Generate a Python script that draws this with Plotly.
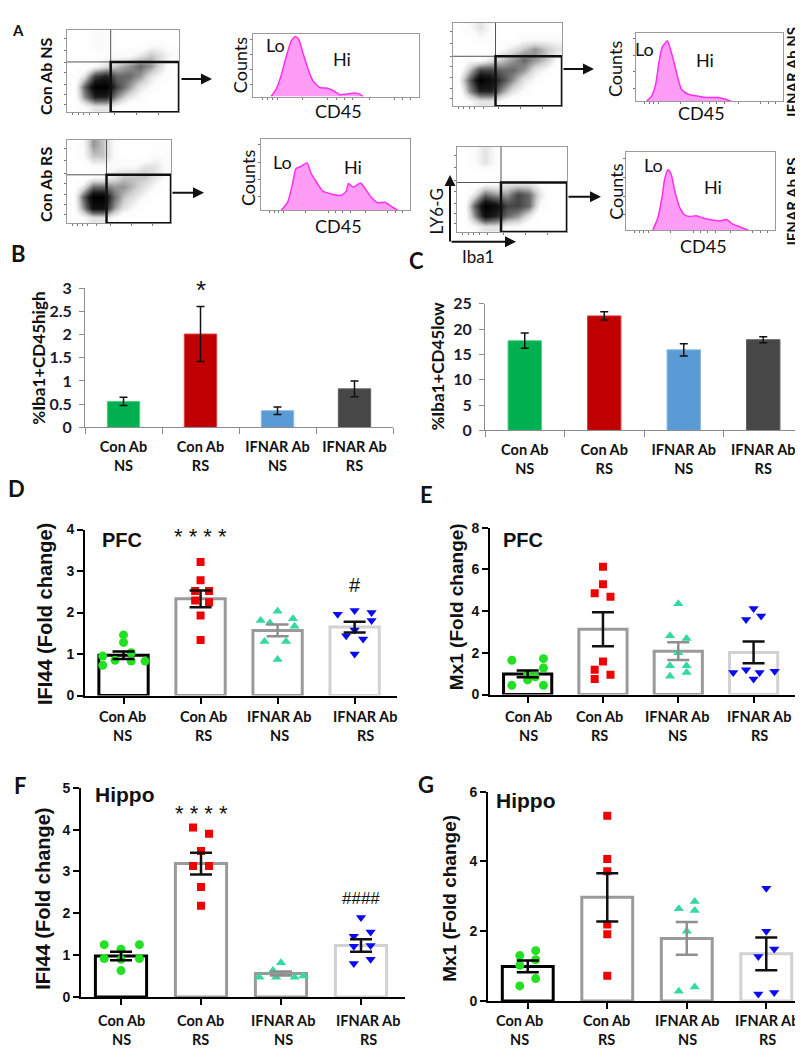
import plotly.graph_objects as go

W, H = 803, 1050

# ---------------------------------------------------------------- data
GROUPS = ["Con Ab<br>NS", "Con Ab<br>RS", "IFNAR Ab<br>NS", "IFNAR Ab<br>RS"]

# Panel A: flow-cytometry density (rows bottom -> top; Iba1 left -> right)
S1_Z = [
    [0, 1, 2, 2, 1, 0, 0, 0, 0, 0],
    [0, 4, 7, 7, 4, 2, 1, 0, 0, 0],
    [0, 5, 9, 9, 6, 4, 2, 1, 0, 0],
    [0, 2, 6, 7, 5, 5, 4, 2, 1, 0],
    [0, 0, 1, 2, 3, 4, 5, 4, 2, 0],
    [0, 0, 0, 1, 1, 1, 2, 3, 2, 1],
    [0, 0, 1, 1, 0, 0, 0, 1, 1, 0],
    [0, 0, 1, 1, 0, 0, 0, 0, 0, 0],
]
S2_Z = [
    [0, 1, 2, 2, 1, 0, 0, 0, 0, 0],
    [0, 4, 7, 7, 4, 2, 1, 0, 0, 0],
    [1, 5, 9, 8, 6, 4, 2, 1, 0, 0],
    [0, 3, 6, 6, 5, 5, 4, 2, 1, 0],
    [0, 1, 1, 2, 3, 4, 5, 4, 3, 1],
    [0, 0, 0, 0, 1, 2, 3, 4, 3, 2],
    [0, 0, 1, 1, 0, 0, 1, 1, 1, 1],
    [0, 1, 2, 1, 0, 0, 0, 0, 0, 0],
]
S3_Z = [
    [0, 1, 2, 2, 1, 0, 0, 0, 0, 0],
    [0, 4, 8, 8, 4, 2, 1, 0, 0, 0],
    [0, 5, 9, 9, 5, 3, 2, 1, 0, 0],
    [0, 2, 5, 5, 4, 4, 3, 2, 1, 0],
    [0, 0, 1, 1, 2, 3, 3, 3, 2, 1],
    [0, 0, 1, 1, 1, 1, 1, 2, 2, 1],
    [0, 1, 3, 3, 1, 0, 0, 0, 1, 1],
    [0, 1, 4, 3, 1, 0, 0, 0, 0, 0],
]
S4_Z = [
    [0, 1, 2, 2, 1, 1, 0, 0, 0, 0],
    [0, 4, 8, 7, 5, 4, 2, 0, 0, 0],
    [0, 5, 9, 8, 6, 6, 5, 1, 0, 0],
    [0, 2, 5, 4, 4, 6, 5, 2, 0, 0],
    [0, 0, 1, 1, 2, 2, 2, 1, 0, 0],
    [0, 0, 0, 0, 0, 0, 0, 0, 0, 0],
    [0, 1, 2, 1, 0, 0, 0, 0, 0, 0],
    [0, 1, 2, 1, 0, 0, 0, 0, 0, 0],
]

# CD45 histograms (channel, counts %)
H1_X = [110, 141, 171, 201, 231, 255, 275, 301, 331, 361, 402, 442, 482, 522, 562, 612, 643, 663]
H1_Y = [0, 13, 36, 67, 92, 99, 95, 72, 46, 26, 15, 14, 10, 3, 4, 6, 4, 0]
H2_X = [72, 106, 133, 156, 179, 197, 213, 231, 253, 283, 310, 355, 423, 491, 559, 615, 649]
H2_Y = [0, 8, 25, 59, 83, 88, 92, 81, 64, 37, 18, 11, 8, 6, 6, 3, 0]
H3_X = [135, 179, 213, 235, 269, 309, 336, 370, 415, 471, 538, 572, 587, 617, 639, 668, 695, 740, 785, 830, 874, 919]
H3_Y = [0, 12, 40, 61, 64, 69, 54, 42, 28, 24, 22, 28, 39, 34, 36, 40, 33, 19, 11, 12, 6, 0]
H4_X = [180, 213, 243, 258, 281, 303, 326, 360, 393, 427, 472, 517, 562, 629, 674, 719, 753, 820]
H4_Y = [0, 16, 45, 66, 80, 74, 53, 30, 20, 18, 19, 16, 14, 12, 14, 7.5, 5, 0]

# Panel B / C
B_MEAN = [0.56, 2.01, 0.36, 0.83]
B_ERR = [0.09, 0.59, 0.08, 0.17]
C_MEAN = [17.7, 22.6, 15.9, 17.9]
C_ERR = [1.5, 0.8, 1.2, 0.6]

# Panel D: IFI44 PFC
D_MEAN = [0.97, 2.33, 1.57, 1.65]
D_SEM = [0.09, 0.20, 0.14, 0.13]
D_PTS = [
    [0.95, 0.73, 0.85, 1.46, 1.28, 1.03, 0.83, 0.83],
    [3.22, 2.78, 2.52, 2.52, 2.29, 2.25, 1.93, 1.34],
    [2.03, 1.81, 1.85, 1.67, 1.30, 1.30, 0.87, 1.75],
    [1.96, 2.05, 2.00, 1.81, 1.44, 1.36, 1.00, 1.58],
]
# Panel E: Mx1 PFC
E_MEAN = [0.99, 3.13, 2.08, 2.02]
E_SEM = [0.16, 0.81, 0.42, 0.52]
E_PTS = [
    [1.64, 1.72, 1.27, 0.98, 0.70, 0.44, 0.44, 0.85],
    [6.12, 5.29, 4.85, 4.69, 1.58, 1.19, 0.95, 0.75],
    [4.35, 2.82, 2.68, 2.00, 1.38, 1.38, 1.06, 0.88],
    [4.12, 3.76, 3.60, 1.06, 1.19, 1.06, 1.11, 0.75],
]
# Panel F: IFI44 Hippo
F_MEAN = [0.98, 3.19, 0.56, 1.23]
F_SEM = [0.10, 0.26, 0.05, 0.15]
F_PTS = [
    [1.25, 1.14, 1.25, 0.92, 0.92, 0.90, 0.63],
    [4.05, 3.90, 3.49, 3.13, 3.13, 2.63, 2.18],
    [0.82, 0.63, 0.47, 0.47, 0.47, 0.50],
    [1.90, 1.45, 1.55, 1.23, 1.21, 0.80, 0.90],
]
# Panel G: Mx1 Hippo
G_MEAN = [0.99, 2.97, 1.79, 1.35]
G_SEM = [0.17, 0.69, 0.47, 0.47]
G_PTS = [
    [1.30, 1.44, 1.18, 1.02, 0.43, 0.64],
    [5.31, 4.07, 3.72, 2.19, 1.91, 0.72],
    [2.64, 2.85, 2.59, 2.00, 0.28, 0.40],
    [3.23, 2.00, 1.49, 1.27, 0.20, 0.24],
]

# ---------------------------------------------------------------- layout (positions / styles)
# horizontal swarm offsets of the points (category units)
D_DX = [
    [-0.27, -0.27, -0.11, 0, 0, 0.1, 0.1, 0.28],
    [0, 0, -0.07, 0.11, -0.07, 0.11, 0, 0],
    [0, -0.22, 0.2, 0.22, -0.17, 0.11, 0, -0.1],
    [-0.22, 0, 0.22, 0.22, -0.11, 0.11, 0, 0],
]
E_DX = [
    [-0.21, 0.21, 0.21, 0, 0, -0.21, 0.21, 0.1],
    [0, 0, -0.11, 0.1, 0, -0.11, 0.1, -0.11],
    [0, -0.11, 0.11, 0, -0.11, 0.11, 0.11, -0.11],
    [0, 0.1, -0.1, -0.27, -0.1, 0.08, 0.28, 0],
]
F_DX = [
    [-0.21, 0, 0.23, -0.21, 0.23, 0, 0],
    [-0.1, 0.1, 0, -0.1, 0.1, 0, 0],
    [0, -0.1, -0.27, -0.06, 0.17, 0.28],
    [0, -0.09, 0.12, 0.12, -0.09, -0.09, 0.12],
]
G_DX = [
    [-0.1, 0.1, 0.1, -0.1, -0.1, 0.1],
    [0, 0, 0, 0, 0, 0],
    [-0.1, 0.1, 0.1, 0, -0.1, 0.1],
    [0, 0, 0.1, -0.1, -0.1, 0.1],
]

FONT = "Lato, Arial, sans-serif"
ARIAL = "Arial, Liberation Sans, sans-serif"

traces = []
annotations = []
shapes = []
layout = dict(
    width=W, height=H, margin=dict(l=0, r=0, t=0, b=0),
    paper_bgcolor="white", plot_bgcolor="rgba(0,0,0,0)",
    showlegend=False, font=dict(family=FONT, color="#111"),
)


def px_x(p):
    return p / W


def px_y(p):
    return 1 - p / H


def axes(n, left, top, right, bottom, xa, ya):
    k = "" if n == 1 else str(n)
    layout["xaxis" + k] = dict(domain=[px_x(left), px_x(right)], anchor="y" + k, **xa)
    layout["yaxis" + k] = dict(domain=[px_y(bottom), px_y(top)], anchor="x" + k, **ya)
    return "x" + k, "y" + k


def note(xp, yp, text, size, bold=False, angle=0, family=FONT, color="#111",
         xanchor="center", yanchor="middle"):
    annotations.append(dict(
        x=px_x(xp), y=px_y(yp), xref="paper", yref="paper",
        text=("<b>%s</b>" % text) if bold else text, showarrow=False,
        font=dict(size=size, family=family, color=color), textangle=angle,
        xanchor=xanchor, yanchor=yanchor))


def arrow(xt, yt, xh, yh, width=2):
    annotations.append(dict(
        x=px_x(xh), y=px_y(yh), xref="paper", yref="paper", text="",
        ax=xt - xh, ay=yt - yh, axref="pixel", ayref="pixel", showarrow=True,
        arrowhead=2, arrowsize=1.1, arrowwidth=width, arrowcolor="#111"))


FRAME = dict(showline=True, mirror=True, linecolor="#9a9a9a", linewidth=1,
             showgrid=False, zeroline=False, showticklabels=False,
             ticks="outside", ticklen=2, tickcolor="#777", fixedrange=True)


def flow_dot(n, box, Z, gate):
    left, top, right, bottom = box
    xr, yr = axes(n, left, top, right, bottom,
                  dict(FRAME, range=[0, 1], tickvals=[0.05, 0.1, 0.15, 0.2, 0.28, 0.42, 0.62, 0.82]),
                  dict(FRAME, range=[0, 1], tickvals=[0.1, 0.22, 0.34, 0.48, 0.6, 0.75, 0.9]))
    nx, ny = len(Z[0]), len(Z)
    traces.append(go.Heatmap(
        z=Z, x=[(i + 0.5) / nx for i in range(nx)], y=[(j + 0.5) / ny for j in range(ny)],
        xaxis=xr, yaxis=yr, zmin=0, zmax=9, zsmooth="best", showscale=False,
        colorscale=[[0, "#ffffff"], [0.12, "#fbfbfb"], [0.3, "#d2d2d2"],
                    [0.55, "#6a6a6a"], [0.8, "#1a1a1a"], [1, "#000000"]], hoverinfo="skip"))
    qx, qy = gate
    shapes.append(dict(type="line", xref=xr, yref=yr, x0=qx, x1=qx, y0=0, y1=1,
                       line=dict(color="#555", width=1)))
    shapes.append(dict(type="line", xref=xr, yref=yr, x0=0, x1=1, y0=qy, y1=qy,
                       line=dict(color="#555", width=1)))
    shapes.append(dict(type="rect", xref=xr, yref=yr, x0=qx, x1=1, y0=0, y1=qy,
                       line=dict(color="#111", width=2.5)))


def flow_hist(n, box, X, Y):
    left, top, right, bottom = box
    xr, yr = axes(n, left, top, right, bottom,
                  dict(FRAME, range=[0, 1000], tickvals=[60, 90, 120, 150, 300, 450, 500, 550, 600, 700, 850, 900, 950]),
                  dict(FRAME, range=[0, 104], tickvals=[20, 45, 70, 95]))
    traces.append(go.Scatter(x=X, y=Y, mode="lines", fill="tozeroy", xaxis=xr, yaxis=yr,
                             line=dict(color="#FF2EF0", width=1.5, shape="spline", smoothing=0.6),
                             fillcolor="#FF9CF5", hoverinfo="skip"))


# ---- panel A
flow_dot(1, (59, 12, 171, 96), S1_Z, (0.39, 0.61))
flow_dot(2, (445, 5, 554, 90), S2_Z, (0.39, 0.60))
flow_dot(3, (59, 124, 163, 209), S3_Z, (0.38, 0.58))
flow_dot(4, (449, 131, 559, 218), S4_Z, (0.40, 0.58))
flow_hist(5, (245, 16, 411, 80), H1_X, H1_Y)
flow_hist(6, (628, 15, 775, 85), H2_X, H2_Y)
flow_hist(7, (253, 123, 402, 196), H3_X, H3_Y)
flow_hist(8, (618, 136, 767, 216), H4_X, H4_Y)

arrow(172, 62, 204, 62)
arrow(554, 52, 586, 52)
arrow(163, 178, 196, 178)
arrow(559, 182, 593, 182)
arrow(442, 228, 442, 160)
arrow(442, 228, 508, 228)

note(10, 12, "A", 15, bold=True)
note(38, 60, "Con Ab NS", 16, bold=True, angle=-90)
note(38, 170, "Con Ab RS", 16, bold=True, angle=-90)
note(784, 55, "IFNAR Ab NS", 15, bold=True, angle=-90)
note(784, 187, "IFNAR Ab RS", 15, bold=True, angle=-90)
for (cx, cy) in [(232, 48), (607, 52), (240, 163), (608, 177)]:
    note(cx, cy, "Counts", 18, angle=-90)
for (cx, cy) in [(330, 95), (693, 97), (330, 212), (695, 232)]:
    note(cx, cy, "CD45", 18)
for (cx, cy) in [(267, 27), (636, 32), (274, 147), (645, 150)]:
    note(cx, cy, "Lo", 18)
for (cx, cy) in [(334, 42), (697, 43), (345, 152), (705, 172)]:
    note(cx, cy, "Hi", 18)
note(428, 197, "LY6-G", 17, angle=-90)
note(470, 243, "Iba1", 17)

# ---- panels B, C
BAR_FILL = ["#00B050", "#C00000", "#5B9BD5", "#474747"]
BAR_EDGE = ["#4fcf82", "#d84040", "#86b8e6", "#5e5e5e"]


def excel_panel(n, box, means, errs, ymax, dtick):
    left, top, right, bottom = box
    xr, yr = axes(n, left, top, right, bottom,
                  dict(type="category", showline=True, linecolor="#8c8c8c", linewidth=1,
                       ticks="outside", tickson="boundaries", ticklen=6, tickcolor="#8c8c8c",
                       tickfont=dict(family=FONT, size=14.5, color="#111", weight="bold"),
                       ticklabelstandoff=6, showgrid=False, zeroline=False, fixedrange=True),
                  dict(range=[0, ymax], dtick=dtick, showline=True, linecolor="#8c8c8c", linewidth=1,
                       ticks="outside", ticklen=5, tickcolor="#8c8c8c",
                       tickfont=dict(family=FONT, size=16, color="#1c1c30", weight="bold"),
                       ticklabelstandoff=4, showgrid=False, zeroline=False, fixedrange=True))
    traces.append(go.Bar(x=GROUPS, y=means, width=0.42, xaxis=xr, yaxis=yr,
                         marker=dict(color=BAR_FILL, line=dict(color=BAR_EDGE, width=1)),
                         error_y=dict(type="data", array=errs, color="#111", thickness=1.5, width=4),
                         hoverinfo="skip"))
    return xr, yr


excel_panel(9, (77, 275, 385, 417), B_MEAN, B_ERR, 3, 0.5)
excel_panel(10, (477, 291, 795, 420), C_MEAN, C_ERR, 25, 5)
note(10, 240, "B", 22, bold=True)
note(408, 247, "C", 22, bold=True)
note(31, 347, "%Iba1+CD45high", 17, bold=True, angle=-90)
note(430, 355, "%Iba1+CD45low", 17, bold=True, angle=-90)
annotations.append(dict(x=GROUPS[1], y=B_MEAN[1] + B_ERR[1], xref="x9", yref="y9", text="*",
                        showarrow=False, yanchor="bottom", yshift=0,
                        font=dict(size=26, family=ARIAL, color="#111")))

# ---- panels D-G
PT_SYM = ["circle", "square", "triangle-up", "triangle-down"]
PT_COL = ["#22E022", "#F00000", "#33D9A0", "#0A0AF0"]
PT_SIZE = [9, 8, 9, 9]
OUT_COL = ["#000000", "#9a9a9a", "#9a9a9a", "#d2d2d2"]
ERR_COL = ["#000000", "#111111", "#8f8f8f", "#111111"]


def gp_panel(n, box, means, sems, pts, dxs, ymax, dtick, label_x, label_y):
    left, top, right, bottom = box
    xr, yr = axes(n, left, top, right, bottom,
                  dict(range=[-0.5, 3.55], tickvals=[0, 1, 2, 3], showticklabels=False,
                       showline=True, linecolor="#000", linewidth=2, ticks="outside", ticklen=6,
                       tickwidth=2, tickcolor="#000",
                       showgrid=False, zeroline=False, fixedrange=True),
                  dict(range=[0, ymax], dtick=dtick, showline=True, linecolor="#000", linewidth=2,
                       ticks="outside", ticklen=6, tickwidth=2, tickcolor="#000",
                       tickfont=dict(family=ARIAL, size=14, color="#111", weight="bold"),
                       showgrid=False, zeroline=False, fixedrange=True))
    traces.append(go.Bar(x=[0, 1, 2, 3], y=means, width=0.64, xaxis=xr, yaxis=yr,
                         marker=dict(color="white", line=dict(color=OUT_COL, width=3)),
                         hoverinfo="skip"))
    for g in range(4):
        traces.append(go.Scatter(x=[g + d for d in dxs[g]], y=pts[g], mode="markers",
                                 xaxis=xr, yaxis=yr, hoverinfo="skip",
                                 marker=dict(symbol=PT_SYM[g], color=PT_COL[g], size=PT_SIZE[g],
                                             line=dict(width=0))))
    for g in range(4):
        traces.append(go.Scatter(x=[g], y=[means[g]], mode="markers", xaxis=xr, yaxis=yr,
                                 marker=dict(size=1, opacity=0), hoverinfo="skip",
                                 error_y=dict(type="data", array=[sems[g]], color=ERR_COL[g],
                                              thickness=2.5, width=11)))
    # category labels (two lines)
    for g, name in enumerate(GROUPS):
        for li, line in enumerate(name.split("<br>")):
            note(label_x[g], label_y[li], line, 14.5, bold=True)
    return xr, yr


xd, yd = gp_panel(11, (77, 521, 389, 690), D_MEAN, D_SEM, D_PTS, D_DX, 4, 1,
                  [115, 195, 271, 357], [711, 731])
xe, ye = gp_panel(12, (482, 519, 787, 689), E_MEAN, E_SEM, E_PTS, E_DX, 8, 2,
                  [520, 591, 669, 751], [711, 731])
xf, yf = gp_panel(13, (73, 784, 397, 997), F_MEAN, F_SEM, F_PTS, F_DX, 5, 1,
                  [113, 192, 275, 360], [1021, 1040])
xg, yg = gp_panel(14, (480, 788, 802, 1001), G_MEAN, G_SEM, G_PTS, G_DX, 6, 2,
                  [511, 598, 679, 759], [1021, 1040])

note(8, 479, "D", 22, bold=True)
note(418, 485, "E", 22, bold=True)
note(12, 782, "F", 22, bold=True)
note(418, 781, "G", 22, bold=True)
note(37, 607, "IFI44 (Fold change)", 20, bold=True, angle=-90, family=ARIAL)
note(448, 600, "Mx1 (Fold change)", 19, bold=True, angle=-90, family=ARIAL)
note(35, 897, "IFI44 (Fold change)", 20, bold=True, angle=-90, family=ARIAL)
note(442, 897, "Mx1 (Fold change)", 19, bold=True, angle=-90, family=ARIAL)
note(92, 532, "PFC", 20, bold=True, family=ARIAL, xanchor="left")
note(493, 532, "PFC", 20, bold=True, family=ARIAL, xanchor="left")
note(85, 791, "Hippo", 21, bold=True, family=ARIAL, xanchor="left")
note(486, 797, "Hippo", 21, bold=True, family=ARIAL, xanchor="left")


def sig(xr, yr, x, y, text, size):
    annotations.append(dict(x=x, y=y, xref=xr, yref=yr, text=text, showarrow=False,
                            font=dict(size=size, family=ARIAL, color="#111")))


sig(xd, yd, 1, 3.83, "* * * *", 22)
sig(xd, yd, 3, 2.66, "#", 20)
sig(xf, yf, 1, 4.39, "* * * *", 22)
sig(xf, yf, 3, 2.35, "####", 17)

layout["annotations"] = annotations
layout["shapes"] = shapes
fig = go.Figure(data=traces, layout=layout)
fig.write_html("out.html")
